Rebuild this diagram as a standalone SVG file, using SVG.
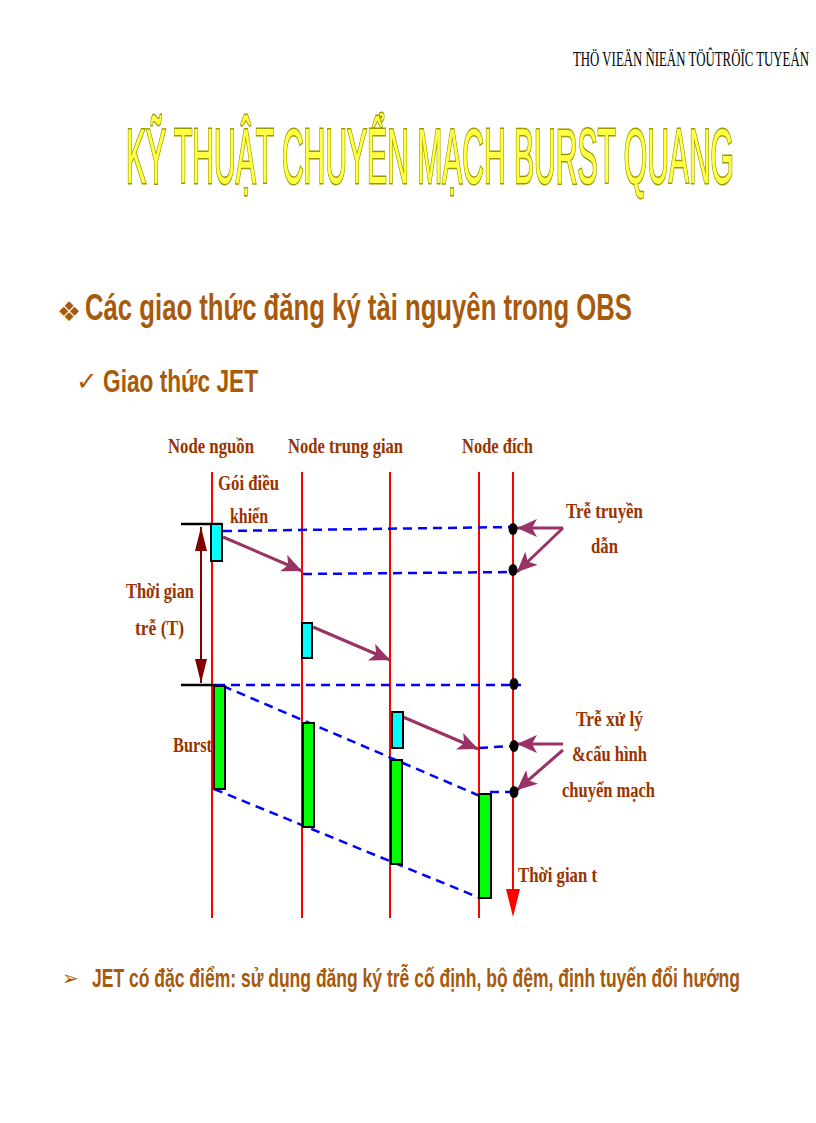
<svg xmlns="http://www.w3.org/2000/svg" width="816" height="1123" viewBox="0 0 816 1123">
<style>
.hdr{font-family:"Liberation Serif",serif;font-size:22px;fill:#000}
.title{font-family:"Liberation Sans",Arial,sans-serif;font-size:78px;fill:#FFFF44;stroke:#999900;stroke-width:3px;paint-order:stroke}
.h1{font-family:"Liberation Sans",Arial,sans-serif;font-weight:bold;fill:#A85A0C}
.sym{font-family:"DejaVu Sans",sans-serif;fill:#A85A0C}
.lbl{font-family:"Liberation Serif","Times New Roman",serif;font-weight:bold;font-size:22px;fill:#993300}
.red{stroke:#FF0000;stroke-width:2;fill:none}
.blue{stroke:#0000FF;stroke-width:2.5;stroke-dasharray:9,6;fill:none}
.blk{stroke:#000;stroke-width:2.5;fill:none}
.pur{stroke:#993366;stroke-width:3;fill:none;marker-end:url(#pa)}
.cyan{fill:#00FFFF;stroke:#000;stroke-width:2}
.grn{fill:#00FF00;stroke:#000;stroke-width:2}
.dot{fill:#000}
</style>
<defs>
<marker id="pa" markerUnits="userSpaceOnUse" markerWidth="22" markerHeight="18" refX="20" refY="9" orient="auto">
<path d="M0,0 L20,9 L0,18 L5,9 z" fill="#993366"/>
</marker>
<marker id="da" markerUnits="userSpaceOnUse" markerWidth="26" markerHeight="12" refX="24" refY="6" orient="auto-start-reverse">
<path d="M0,0 L24,6 L0,12 z" fill="#800000"/>
</marker>
</defs>
<rect width="816" height="1123" fill="#fff"/>

<text class="hdr" x="573" y="66" textLength="236" lengthAdjust="spacingAndGlyphs">THÖ VIEÄN ÑIEÄN TÖÛTRÖÏC TUYEÁN</text>
<text class="title" x="126" y="183" textLength="608" lengthAdjust="spacingAndGlyphs">KỸ THUẬT CHUYỂN MẠCH BURST QUANG</text>

<text class="sym" x="57" y="321" font-size="27">❖</text>
<text class="h1" x="85" y="320" font-size="37" textLength="547" lengthAdjust="spacingAndGlyphs">Các giao thức đăng ký tài nguyên trong OBS</text>
<text class="sym" x="76" y="390" font-size="26">✓</text>
<text class="h1" x="103" y="392" font-size="31" textLength="155" lengthAdjust="spacingAndGlyphs">Giao thức JET</text>

<g id="timelines">
<line class="red" x1="212" y1="472" x2="212" y2="918"/>
<line class="red" x1="302" y1="472" x2="302" y2="918"/>
<line class="red" x1="390" y1="472" x2="390" y2="918"/>
<line class="red" x1="479" y1="472" x2="479" y2="918"/>
<line class="red" x1="513" y1="472" x2="513" y2="892"/>
<polygon points="506,889 520,889 513,917" fill="#FF0000"/>
</g>

<g id="connectors">
<line class="blk" x1="181" y1="524" x2="222" y2="524"/>
<line class="blk" x1="181" y1="685" x2="216" y2="685"/>
<line x1="201" y1="527" x2="201" y2="683" stroke="#800000" stroke-width="2" marker-start="url(#da)" marker-end="url(#da)"/>
<path class="blue" d="M223,531 L513,527"/>
<path class="blue" d="M303,574 L513,572"/>
<path class="blue" d="M216,685 L521,685"/>
<path class="blue" d="M223,686 L480,796"/>
<path class="blue" d="M214,789 L480,898"/>
<path class="blue" d="M479,748 L513,746"/>
<path class="blue" d="M490,792 L513,792"/>
<path class="pur" d="M223,537 L302,571"/>
<path class="pur" d="M313,627 L390,660"/>
<path class="pur" d="M403,717 L478,749"/>
<path class="pur" d="M563,528 L517,528"/>
<path class="pur" d="M563,528 L517,572"/>
<path class="pur" d="M563,744 L517,744"/>
<path class="pur" d="M563,750 L517,790"/>
</g>

<g id="packets">
<rect class="cyan" x="211" y="524" width="11" height="37"/>
<rect class="cyan" x="302" y="623" width="10" height="35"/>
<rect class="cyan" x="392" y="712" width="11" height="36"/>
<rect class="grn" x="214" y="686" width="11" height="103"/>
<rect class="grn" x="303" y="723" width="11" height="104"/>
<rect class="grn" x="391" y="760" width="11" height="104"/>
<rect class="grn" x="479" y="794" width="12" height="104"/>
</g>

<g id="dots">
<ellipse class="dot" cx="513" cy="529" rx="4.5" ry="6"/>
<ellipse class="dot" cx="513" cy="570" rx="4.5" ry="6"/>
<ellipse class="dot" cx="514" cy="684" rx="4.5" ry="6"/>
<ellipse class="dot" cx="514" cy="746" rx="4.5" ry="6"/>
<ellipse class="dot" cx="514" cy="792" rx="4.5" ry="6"/>
</g>

<g id="labels">
<text class="lbl" x="168" y="453" textLength="86" lengthAdjust="spacingAndGlyphs">Node nguồn</text>
<text class="lbl" x="288" y="453" textLength="115" lengthAdjust="spacingAndGlyphs">Node trung gian</text>
<text class="lbl" x="462" y="453" textLength="71" lengthAdjust="spacingAndGlyphs">Node đích</text>
<text class="lbl" x="218" y="490" textLength="61" lengthAdjust="spacingAndGlyphs">Gói điều</text>
<text class="lbl" x="230" y="523" textLength="38" lengthAdjust="spacingAndGlyphs">khiển</text>
<text class="lbl" x="126" y="598" textLength="68" lengthAdjust="spacingAndGlyphs">Thời gian</text>
<text class="lbl" x="135" y="635" textLength="49" lengthAdjust="spacingAndGlyphs">trễ (T)</text>
<text class="lbl" x="173" y="752" textLength="39" lengthAdjust="spacingAndGlyphs">Burst</text>
<text class="lbl" x="566" y="518" textLength="77" lengthAdjust="spacingAndGlyphs">Trễ truyền</text>
<text class="lbl" x="591" y="553" textLength="27" lengthAdjust="spacingAndGlyphs">dẫn</text>
<text class="lbl" x="576" y="726" textLength="67" lengthAdjust="spacingAndGlyphs">Trễ xử lý</text>
<text class="lbl" x="572" y="761" textLength="75" lengthAdjust="spacingAndGlyphs">&amp;cấu hình</text>
<text class="lbl" x="562" y="797" textLength="93" lengthAdjust="spacingAndGlyphs">chuyển mạch</text>
<text class="lbl" x="518" y="882" textLength="79" lengthAdjust="spacingAndGlyphs">Thời gian t</text>
</g>

<text class="sym" x="62" y="985" font-size="20">➢</text>
<text class="h1" x="92" y="987" font-size="26" textLength="648" lengthAdjust="spacingAndGlyphs">JET có đặc điểm: sử dụng đăng ký trễ cố định, bộ đệm, định tuyến đổi hướng</text>
</svg>
